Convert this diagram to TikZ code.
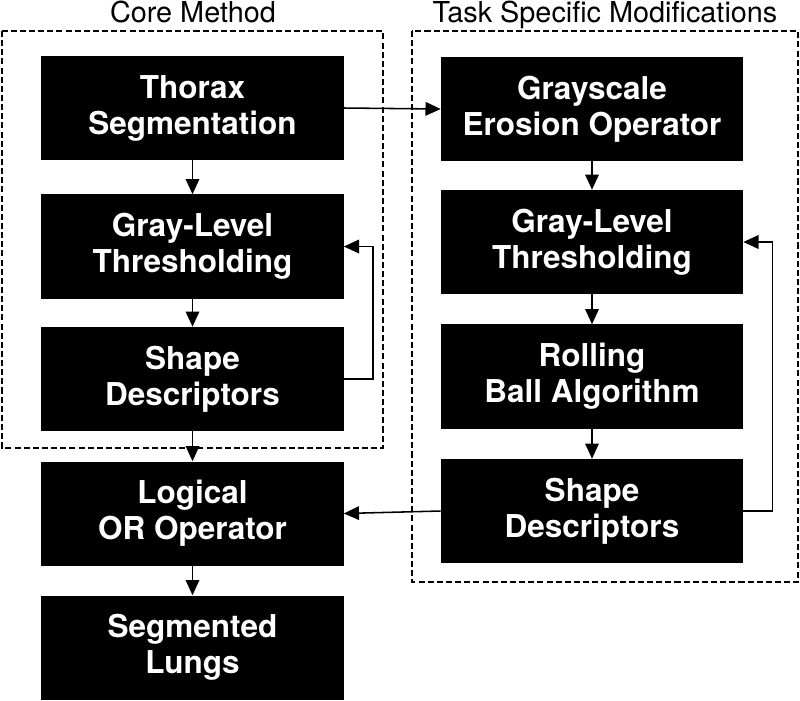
\documentclass[tikz,border=0pt]{standalone}
\usepackage{fontspec}
\setmainfont{TeX Gyre Heros}
\usetikzlibrary{arrows.meta}

\tikzset{
    blocco/.style={fill=black, text=white, align=center, inner sep=0pt,
        minimum width=7.55cm, minimum height=2.6cm,
        font=\fontsize{22.4}{25.6}\selectfont\bfseries},
    titolo/.style={font=\fontsize{20.5}{24}\selectfont},
    cornice/.style={dash pattern=on 4.3pt off 2.2pt, line width=0.75pt},
    freccia/.style={-{Triangle[length=0.38cm, width=0.34cm]}, line width=1.1pt}
}

\begin{document}
\begin{tikzpicture}[x=0.025cm, y=-0.025cm]

    \useasboundingbox (0,0) rectangle (800,700);

    %-------------------------
    % Titoli e cornici
    %-------------------------
    \node[titolo, anchor=base] (core) at (193,22) {Core Method};
    \node[titolo, anchor=base] (task) at (605,22) {Task Specific Modifications};

    \draw[cornice] (2,31) rectangle (383,448);
    \draw[cornice] (412,31) rectangle (798,582);

    %-------------------------
    % Colonna sinistra
    %-------------------------
    \node[blocco] (thorax) at (192.5,108) {Thorax\\Segmentation};
    \node[blocco] (lgray) at (192.5,246.5) {Gray-Level\\Thresholding};
    \node[blocco] (lshape) at (192.5,379) {Shape\\Descriptors};
    \node[blocco] (logical) at (192.5,513.5) {Logical\\OR Operator};
    \node[blocco] (lungs) at (192.5,647.5) {Segmented\\Lungs};

    %-------------------------
    % Colonna destra
    %-------------------------
    \node[blocco] (erosion) at (592,109) {Grayscale\\Erosion Operator};
    \node[blocco] (rgray) at (592,242) {Gray-Level\\Thresholding};
    \node[blocco] (rolling) at (592,376.5) {Rolling\\Ball Algorithm};
    \node[blocco] (rshape) at (592,511) {Shape\\Descriptors};

    %-------------------------
    % Frecce
    %-------------------------
    \draw[freccia] (thorax) -- (lgray);
    \draw[freccia] (lgray) -- (lshape);
    \draw[freccia] (lshape) -- (logical);
    \draw[freccia] (logical) -- (lungs);
    \draw[freccia] (lshape.east) -- ++(29,0) |- (lgray.east);

    \draw[freccia] (thorax.east) -- (erosion.west);
    \draw[freccia] (erosion) -- (rgray);
    \draw[freccia] (rgray) -- (rolling);
    \draw[freccia] (rolling) -- (rshape);
    \draw[freccia] (rshape.east) -- ++(29,0) |- (rgray.east);
    \draw[freccia] (rshape.west) -- (logical.east);

\end{tikzpicture}
\end{document}
